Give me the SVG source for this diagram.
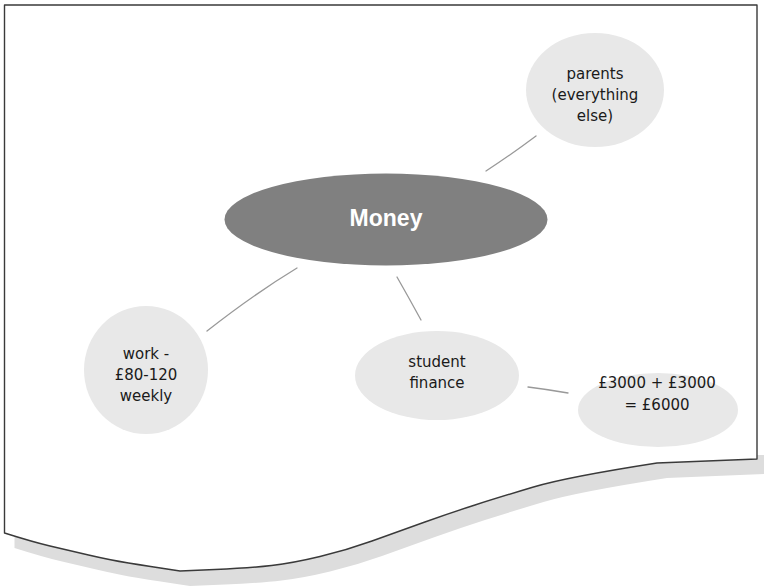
<svg xmlns="http://www.w3.org/2000/svg" width="764" height="588" viewBox="0 0 764 588">
  <style>
    .page { fill: #ffffff; stroke: #3a3a3a; stroke-width: 1.4; stroke-linejoin: round; }
    .shadow { fill: #dddddd; stroke: none; }
    .bubble { fill: #e8e8e8; stroke: none; }
    .hub { fill: #808080; stroke: none; }
    .link { fill: none; stroke: #999999; stroke-width: 1.3; stroke-linecap: round; }
    .label { font-family: "DejaVu Sans", "Liberation Sans", sans-serif; font-size: 15px; fill: #1a1a1a; text-anchor: middle; }
    .hub-label { font-family: "Liberation Sans", Arial, sans-serif; font-size: 23px; font-weight: bold; fill: #ffffff; text-anchor: middle; }
  </style>

  <!-- page with wavy bottom edge and a drop shadow under it -->
  <g id="page">
    <path class="shadow" transform="translate(10,15)" d="M757,440 L757,459 L657,463 Q567,477 533.5,487 Q500,497 475,505 Q450,513 423.5,522.5 Q397,532 372,541 Q347,550 320,556.5 Q293,563 271.5,565.5 Q250,568 215,569.5 L180,571 Q147,566 128.5,563 Q110,560 88.5,555 Q67,550 50,546 Q33,542 4.5,533 L4.5,440 Z"/>
    <path class="page" d="M4.5,5 L757,5 L757,459 L657,463 Q567,477 533.5,487 Q500,497 475,505 Q450,513 423.5,522.5 Q397,532 372,541 Q347,550 320,556.5 Q293,563 271.5,565.5 Q250,568 215,569.5 L180,571 Q147,566 128.5,563 Q110,560 88.5,555 Q67,550 50,546 Q33,542 4.5,533 Z"/>
  </g>

  <g id="connectors">
    <path class="link" d="M486,171 Q512,154 536,136"/>
    <path class="link" d="M297,268 Q254.6,293.7 207,331"/>
    <path class="link" d="M397,277 Q409,298 421,320"/>
    <path class="link" d="M528,387 Q548,389.5 568,393"/>
  </g>

  <g id="money">
    <ellipse class="hub" cx="386" cy="219.5" rx="161.5" ry="46"/>
    <text class="hub-label" x="386" y="226">Money</text>
  </g>

  <g id="parents">
    <ellipse class="bubble" cx="595" cy="90" rx="69" ry="57"/>
    <text class="label" x="595" y="79">parents</text>
    <text class="label" x="595" y="100">(everything</text>
    <text class="label" x="595" y="121">else)</text>
  </g>

  <g id="work">
    <ellipse class="bubble" cx="146" cy="370" rx="62" ry="64"/>
    <text class="label" x="146" y="359">work -</text>
    <text class="label" x="146" y="380">£80-120</text>
    <text class="label" x="146" y="400.5">weekly</text>
  </g>

  <g id="student-finance">
    <ellipse class="bubble" cx="437" cy="375.5" rx="82" ry="44.5"/>
    <text class="label" x="437" y="367">student</text>
    <text class="label" x="437" y="388">finance</text>
  </g>

  <g id="total">
    <ellipse class="bubble" cx="658" cy="410" rx="80" ry="37"/>
    <text class="label" x="657" y="388">£3000 + £3000</text>
    <text class="label" x="657" y="410">= £6000</text>
  </g>
</svg>
